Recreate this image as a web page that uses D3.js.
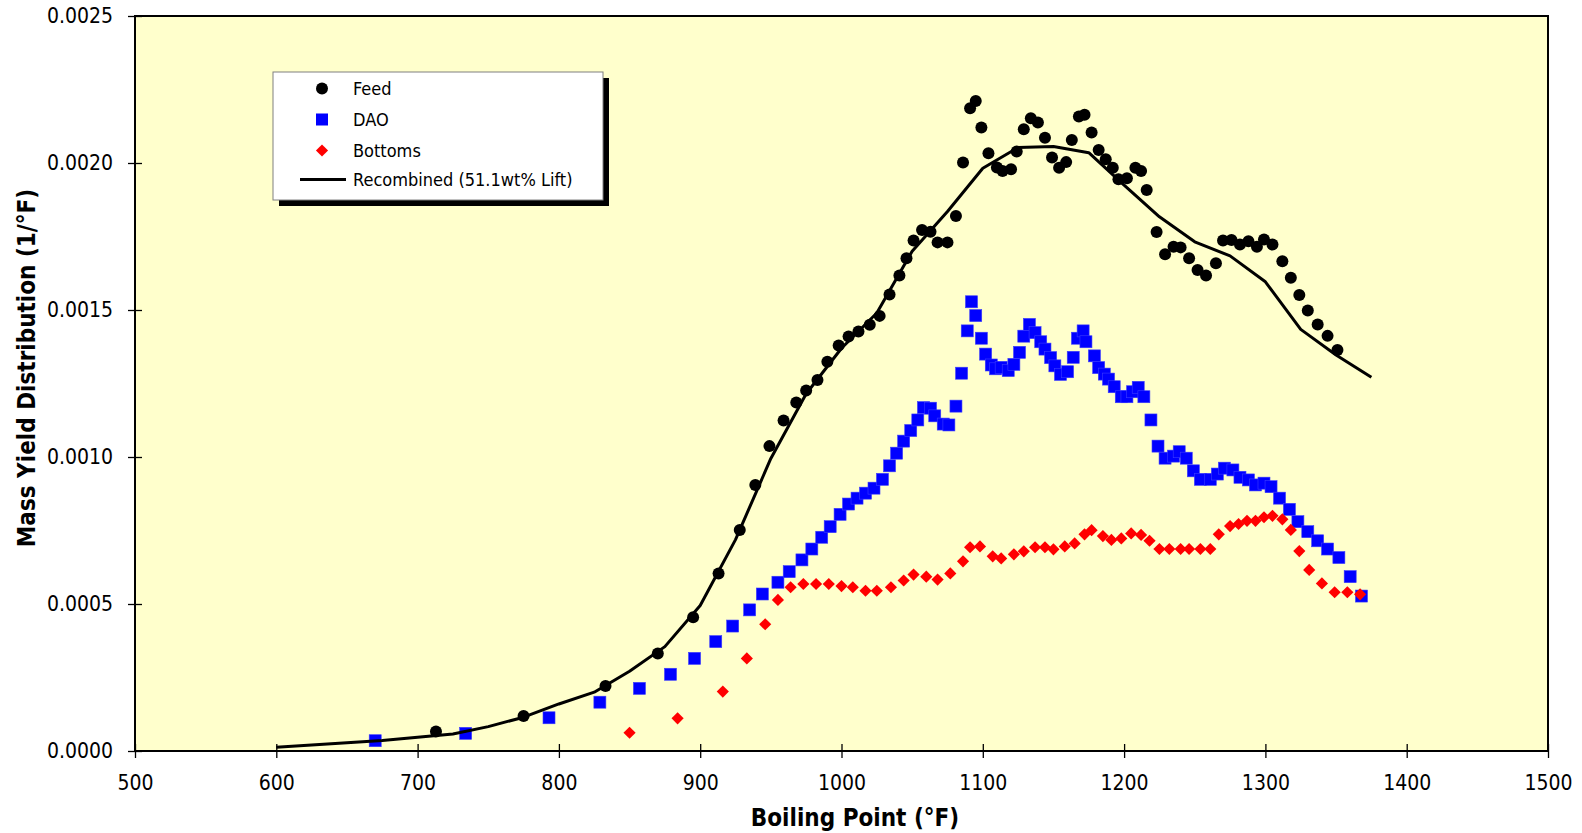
<!DOCTYPE html>
<html>
<head>
<meta charset="utf-8">
<script src="https://cdn.jsdelivr.net/npm/d3@7"></script>
<style>
  html, body { margin: 0; padding: 0; background: #ffffff; }
  svg { display: block; }
  text { font-family: "DejaVu Sans", "Liberation Sans", sans-serif; font-stretch: condensed; fill: #000; }
</style>
</head>
<body>
<svg id="chart" width="1582" height="833"></svg>
<script>
// ---------------- DATA ----------------
const feedX = [713, 775, 833, 870, 895, 913, 928, 939, 949, 959, 968, 975, 983, 990, 998, 1005, 1012, 1020, 1027, 1034, 1041, 1046, 1051, 1057, 1063, 1068, 1075, 1081, 1086, 1091, 1095, 1099, 1104, 1110, 1114, 1120, 1124, 1129, 1134, 1139, 1144, 1149, 1154, 1159, 1163, 1168, 1172, 1177, 1182, 1187, 1192, 1196, 1202, 1208, 1212, 1216, 1223, 1229, 1235, 1240, 1246, 1252, 1258, 1265, 1270, 1276, 1282, 1288, 1294, 1299, 1305, 1312, 1318, 1324, 1330, 1337, 1344, 1351];
const feedY = [0.000066, 0.000119, 0.000221, 0.000332, 0.000455, 0.000604, 0.000752, 0.000905, 0.001037, 0.001124, 0.001185, 0.001226, 0.001262, 0.001324, 0.001379, 0.001410, 0.001427, 0.001450, 0.001480, 0.001553, 0.001617, 0.001676, 0.001736, 0.001772, 0.001766, 0.001730, 0.001730, 0.001820, 0.002002, 0.002186, 0.002211, 0.002121, 0.002033, 0.001985, 0.001973, 0.001979, 0.002039, 0.002115, 0.002152, 0.002138, 0.002086, 0.002019, 0.001984, 0.002003, 0.002078, 0.002158, 0.002164, 0.002104, 0.002044, 0.002013, 0.001984, 0.001945, 0.001948, 0.001984, 0.001973, 0.001908, 0.001765, 0.001690, 0.001715, 0.001713, 0.001676, 0.001636, 0.001617, 0.001659, 0.001736, 0.001738, 0.001723, 0.001734, 0.001715, 0.001740, 0.001723, 0.001666, 0.001610, 0.001551, 0.001498, 0.001451, 0.001412, 0.001364];

const daoX = [670, 734, 793, 829, 857, 879, 896, 911, 923, 935, 944, 955, 963, 972, 979, 986, 992, 999, 1005, 1011, 1017, 1023, 1029, 1034, 1039, 1044, 1049, 1054, 1058, 1063, 1066, 1072, 1076, 1081, 1085, 1089, 1092, 1095, 1099, 1102, 1106, 1109, 1113, 1118, 1122, 1126, 1129, 1133, 1137, 1141, 1144, 1148, 1151, 1155, 1160, 1164, 1167, 1171, 1173, 1179, 1182, 1186, 1189, 1193, 1198, 1202, 1206, 1210, 1214, 1219, 1224, 1229, 1235, 1239, 1244, 1249, 1254, 1261, 1266, 1271, 1277, 1282, 1288, 1293, 1299, 1304, 1310, 1317, 1323, 1330, 1337, 1344, 1352, 1360, 1368];
const daoY = [0.000035, 0.000060, 0.000113, 0.000166, 0.000213, 0.000261, 0.000315, 0.000372, 0.000425, 0.000480, 0.000534, 0.000574, 0.000610, 0.000650, 0.000687, 0.000727, 0.000763, 0.000805, 0.000840, 0.000860, 0.000877, 0.000894, 0.000924, 0.000970, 0.001013, 0.001054, 0.001090, 0.001126, 0.001168, 0.001166, 0.001140, 0.001112, 0.001109, 0.001173, 0.001285, 0.001429, 0.001528, 0.001481, 0.001404, 0.001350, 0.001313, 0.001300, 0.001305, 0.001294, 0.001315, 0.001356, 0.001411, 0.001451, 0.001423, 0.001392, 0.001367, 0.001338, 0.001310, 0.001281, 0.001290, 0.001339, 0.001404, 0.001429, 0.001392, 0.001344, 0.001304, 0.001282, 0.001265, 0.001239, 0.001205, 0.001205, 0.001222, 0.001237, 0.001205, 0.001126, 0.001037, 0.000996, 0.001003, 0.001018, 0.000996, 0.000953, 0.000924, 0.000924, 0.000942, 0.000962, 0.000956, 0.000931, 0.000922, 0.000905, 0.000911, 0.000899, 0.000860, 0.000822, 0.000780, 0.000746, 0.000715, 0.000687, 0.000658, 0.000593, 0.000527];

const bottomsX = [850, 884, 916, 933, 946, 955, 964, 973, 982, 991, 1000, 1008, 1017, 1025, 1035, 1044, 1051, 1060, 1068, 1077, 1086, 1091, 1098, 1107, 1113, 1122, 1129, 1137, 1144, 1150, 1158, 1165, 1172, 1177, 1185, 1191, 1198, 1205, 1212, 1218, 1225, 1232, 1240, 1246, 1254, 1261, 1267, 1275, 1281, 1287, 1293, 1299, 1305, 1312, 1318, 1324, 1331, 1340, 1349, 1358, 1367];
const bottomsY = [0.000062, 0.000111, 0.000202, 0.000315, 0.000431, 0.000514, 0.000557, 0.000568, 0.000568, 0.000568, 0.000561, 0.000557, 0.000545, 0.000545, 0.000557, 0.000580, 0.000600, 0.000593, 0.000583, 0.000604, 0.000645, 0.000693, 0.000696, 0.000662, 0.000655, 0.000669, 0.000679, 0.000693, 0.000693, 0.000686, 0.000696, 0.000706, 0.000737, 0.000751, 0.000731, 0.000718, 0.000723, 0.000740, 0.000735, 0.000715, 0.000687, 0.000687, 0.000687, 0.000687, 0.000687, 0.000687, 0.000737, 0.000765, 0.000772, 0.000783, 0.000783, 0.000795, 0.000800, 0.000788, 0.000752, 0.000680, 0.000616, 0.000570, 0.000540, 0.000540, 0.000533];

const recombX = [600, 625, 650, 675, 700, 725, 750, 775, 800, 825, 850, 875, 900, 925, 950, 975, 1000, 1025, 1050, 1075, 1100, 1125, 1150, 1175, 1200, 1225, 1250, 1275, 1300, 1325, 1350, 1375];
const recombY = [0.0000126, 0.000020, 0.000028, 0.000036, 0.000047, 0.000058, 0.000083, 0.000115, 0.000160, 0.000200, 0.000271, 0.000355, 0.000495, 0.000719, 0.000995, 0.001215, 0.001370, 0.001490, 0.001700, 0.001835, 0.001982, 0.002053, 0.002056, 0.002035, 0.001925, 0.001817, 0.001732, 0.001684, 0.001596, 0.001434, 0.001347, 0.001271];

const xTicks = [500, 600, 700, 800, 900, 1000, 1100, 1200, 1300, 1400, 1500];
const yTicks = [0, 0.0005, 0.0010, 0.0015, 0.0020, 0.0025];
const seriesNames = ["Feed", "DAO", "Bottoms", "Recombined (51.1wt% Lift)"];
const xTitle = "Boiling Point (°F)";
const yTitle = "Mass Yield Distribution (1/°F)";

// ---------------- CHART ----------------
const svg = d3.select("#chart");
const L = 135, R = 1548, T = 16, B = 751;
const x = d3.scaleLinear().domain([500, 1500]).range([L, R]);
const y = d3.scaleLinear().domain([0, 0.0025]).range([B, T]);

// plot background
svg.append("rect").attr("x", L).attr("y", T).attr("width", R - L).attr("height", B - T)
  .attr("fill", "#FFFFCC");

// clip
svg.append("clipPath").attr("id", "clip").append("rect")
  .attr("x", L).attr("y", T).attr("width", R - L).attr("height", B - T);

const zip = (xs, ys) => xs.map((v, i) => ({ x: v, y: ys[i] }));
const feed = zip(feedX, feedY);
const dao = zip(daoX, daoY);
const bottoms = zip(bottomsX, bottomsY);
const recomb = zip(recombX, recombY);

const g = svg.append("g").attr("clip-path", "url(#clip)");

// Feed circles
g.append("g").selectAll("circle").data(feed).join("circle")
  .attr("cx", d => x(d.x)).attr("cy", d => y(d.y)).attr("r", 6)
  .attr("fill", "#000");

// DAO squares
const sq = 12;
g.append("g").selectAll("rect").data(dao).join("rect")
  .attr("x", d => x(d.x) - sq / 2).attr("y", d => y(d.y) - sq / 2)
  .attr("width", sq).attr("height", sq)
  .attr("fill", "#0000FF").attr("stroke", "#3a3aff").attr("stroke-width", 0.6);

// Bottoms diamonds
g.append("g").selectAll("path").data(bottoms).join("path")
  .attr("transform", d => `translate(${x(d.x)},${y(d.y)}) rotate(45)`)
  .attr("d", d3.symbol().type(d3.symbolSquare).size(74))
  .attr("fill", "#FF0000");

// Recombined line
g.append("path").datum(recomb)
  .attr("d", d3.line().x(d => x(d.x)).y(d => y(d.y)))
  .attr("fill", "none").attr("stroke", "#000").attr("stroke-width", 3)
  .attr("stroke-linejoin", "round");

// frame
svg.append("rect").attr("x", L).attr("y", T).attr("width", R - L).attr("height", B - T)
  .attr("fill", "none").attr("stroke", "#000").attr("stroke-width", 2);

// axes
const xAxis = svg.append("g").attr("transform", `translate(0,${B})`)
  .call(d3.axisBottom(x).tickValues(xTicks).tickFormat(d3.format("d"))
    .tickSizeInner(7).tickSizeOuter(0).tickPadding(17));
xAxis.select(".domain").remove();
xAxis.selectAll(".tick line").attr("y1", -7).attr("y2", 7).attr("stroke", "#000").attr("stroke-width", 1.3);
xAxis.selectAll(".tick text").attr("font-size", 21);

const yAxis = svg.append("g").attr("transform", `translate(${L},0)`)
  .call(d3.axisLeft(y).tickValues(yTicks).tickFormat(d3.format(".4f"))
    .tickSizeInner(7).tickSizeOuter(0).tickPadding(15));
yAxis.select(".domain").remove();
yAxis.selectAll(".tick line").attr("x1", -7).attr("x2", 7).attr("stroke", "#000").attr("stroke-width", 1.3);
yAxis.selectAll(".tick text").attr("font-size", 21);
svg.selectAll(".tick text").attr("font-family", null).attr("fill", "#000");

// axis titles
svg.append("text").attr("x", 855).attr("y", 826).attr("text-anchor", "middle")
  .attr("font-size", 24).attr("font-weight", "bold").text(xTitle);
svg.append("text").attr("transform", "translate(35,368) rotate(-90)").attr("text-anchor", "middle")
  .attr("font-size", 24).attr("font-weight", "bold").text(yTitle);

// legend
const lg = svg.append("g");
lg.append("rect").attr("x", 279).attr("y", 78).attr("width", 330).attr("height", 128).attr("fill", "#000");
lg.append("rect").attr("x", 273).attr("y", 72).attr("width", 330).attr("height", 128)
  .attr("fill", "#fff").attr("stroke", "#808080").attr("stroke-width", 1);
const ly = [88.5, 119.5, 150.5, 179.5];
lg.append("circle").attr("cx", 322).attr("cy", ly[0]).attr("r", 6).attr("fill", "#000");
lg.append("rect").attr("x", 316).attr("y", ly[1] - 6).attr("width", 12).attr("height", 12).attr("fill", "#0000FF");
lg.append("path").attr("transform", `translate(322,${ly[2]}) rotate(45)`)
  .attr("d", d3.symbol().type(d3.symbolSquare).size(74)).attr("fill", "#FF0000");
lg.append("line").attr("x1", 300).attr("x2", 346).attr("y1", ly[3]).attr("y2", ly[3])
  .attr("stroke", "#000").attr("stroke-width", 3);
lg.selectAll("text.lab").data(seriesNames).join("text").attr("class", "lab")
  .attr("x", 353).attr("y", (d, i) => ly[i]).attr("dy", "0.36em")
  .attr("font-size", 18).text(d => d);
</script>
</body>
</html>
